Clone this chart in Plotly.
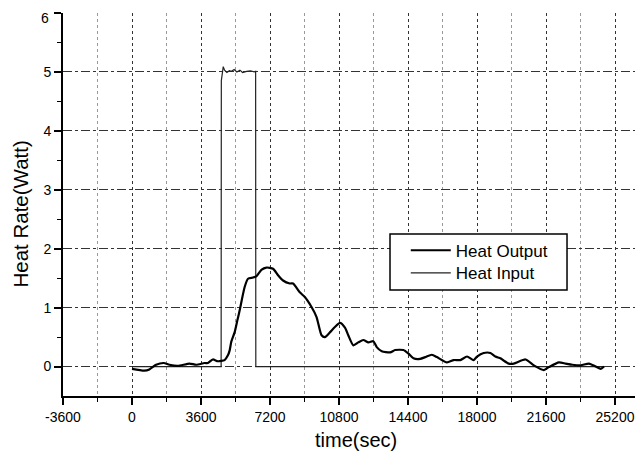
import plotly.graph_objects as go

# Heat Output (thick line)
out_t = [0, 640, 905, 1256, 1654, 1952, 2386, 3000, 3349, 3784, 3959, 4218, 4480, 4830, 5003,
         5092, 5180, 5353, 5494, 5615, 5877, 6052, 6313, 6487, 6749, 7012, 7360, 7620, 7881,
         8232, 8405, 8755, 9017, 9367, 9629, 9891, 10063, 10325, 10587, 10849, 11110, 11284,
         11545, 11806, 12069, 12330, 12591, 12768, 13030, 13465, 13727, 14161, 14423, 14685,
         15034, 15296, 15646, 15908, 16432, 16779, 17128, 17478, 17825, 18002, 18348, 18698,
         18960, 19224, 19394, 19656, 19919, 20530, 20965, 21488, 21750, 22274, 22623, 22972,
         23408, 23843, 24192, 24454, 24628]
out_v = [-0.04, -0.07, -0.05, 0.03, 0.06, 0.03, 0.01, 0.05, 0.03, 0.06, 0.06, 0.12, 0.09, 0.11, 0.19,
         0.27, 0.42, 0.58, 0.78, 0.95, 1.35, 1.49, 1.51, 1.53, 1.64, 1.68, 1.66, 1.55, 1.46,
         1.41, 1.41, 1.26, 1.18, 1.01, 0.84, 0.53, 0.50, 0.58, 0.67, 0.74, 0.66, 0.53,
         0.36, 0.41, 0.45, 0.41, 0.43, 0.33, 0.26, 0.24, 0.28, 0.28, 0.22, 0.14,
         0.13, 0.16, 0.20, 0.16, 0.07, 0.11, 0.11, 0.17, 0.11, 0.17, 0.23, 0.23,
         0.17, 0.14, 0.10, 0.05, 0.05, 0.12, 0.02, -0.06, -0.01, 0.07, 0.05, 0.03,
         0.02, 0.05, 0.00, -0.04, 0.00]

# Heat Input (thin line)
in_t = [0, 4650, 4660, 4700, 4760, 4830, 4950, 5080, 5190, 5330, 5470, 5630, 5770, 5980, 6180, 6370, 6450, 6460, 24600]
in_v = [0, 0, 4.85, 4.98, 5.09, 5.03, 4.99, 5.02, 5.01, 5.04, 5.0, 5.03, 4.99, 5.01, 5.02, 5.0, 5.01, 0, 0]

x_ticks = [-3600, 0, 3600, 7200, 10800, 14400, 18000, 21600, 25200]
y_ticks = [0, 1, 2, 3, 4, 5, 6]

fig = go.Figure()
fig.add_trace(go.Scatter(x=in_t, y=in_v, mode="lines", name="Heat Input", legend="legend2",
                         line=dict(color="#222222", width=1.2)))
fig.add_trace(go.Scatter(x=out_t, y=out_v, mode="lines", name="Heat Output", legend="legend",
                         line=dict(color="black", width=2.2, shape="spline", smoothing=0.6)))

font_family = "Liberation Sans, Arial, sans-serif"
leg_common = dict(xanchor="left", yanchor="middle", itemwidth=40,
                  bgcolor="rgba(0,0,0,0)", borderwidth=0,
                  font=dict(size=17, family=font_family, color="black"))

# the top tick label sits at the very top edge; it is drawn as an annotation nudged inside
y_ticktext = [str(v) for v in y_ticks[:-1]] + [""]
top_label = str(y_ticks[-1])

# page body has an 8px default margin, so the figure is sized/offset to compensate
fig.update_layout(
    width=635, height=449,
    margin=dict(l=55, r=0, t=5, b=61),
    paper_bgcolor="white", plot_bgcolor="white",
    font=dict(family=font_family, color="black"),
    showlegend=True,
    legend=dict(x=0.591, y=0.3794, **leg_common),
    legend2=dict(x=0.591, y=0.3204, **leg_common),
    shapes=[dict(type="rect", xref="paper", yref="paper",
                 x0=0.5638, x1=0.869, y0=0.277, y1=0.423,
                 fillcolor="white", line=dict(color="black", width=1.5), layer="above")],
    xaxis=dict(
        range=[-3600, 26660], tickvals=x_ticks, ticktext=[str(v) for v in x_ticks],
        automargin=False, ticklabeloverflow="allow",
        showline=True, linecolor="black", linewidth=2,
        ticks="outside", ticklen=7, tickwidth=1.5, tickcolor="black",
        tickfont=dict(size=14),
        showgrid=True, gridcolor="#333333", gridwidth=1, griddash="dot",
        minor=dict(tickvals=[v + 1800 for v in x_ticks], ticks="outside", ticklen=4,
                   tickcolor="black", tickwidth=1.2, showgrid=True,
                   gridcolor="#999999", gridwidth=1, griddash="dot"),
        zeroline=False,
    ),
    yaxis=dict(
        range=[-0.5, 6], tickvals=y_ticks, ticktext=y_ticktext,
        automargin=False, ticklabeloverflow="allow",
        showline=True, linecolor="black", linewidth=2,
        ticks="outside", ticklen=7, tickwidth=1.5, tickcolor="black",
        tickfont=dict(size=14),
        showgrid=True, gridcolor="#333333", gridwidth=1, griddash="dashdot",
        minor=dict(tickvals=[v + 0.5 for v in y_ticks[:-1]], ticks="outside",
                   ticklen=4, tickcolor="black", tickwidth=1.2, showgrid=False),
        zeroline=False,
    ),
    annotations=[
        dict(text=top_label, xref="paper", yref="y", x=-0.0215, y=y_ticks[-1],
             xanchor="right", yanchor="top", yshift=5, showarrow=False,
             font=dict(size=14)),
        dict(text="time(sec)", xref="paper", yref="paper", x=0.506, y=-0.115,
             xanchor="center", yanchor="middle", showarrow=False, font=dict(size=20)),
        dict(text="Heat Rate(Watt)", xref="paper", yref="paper", x=-0.074, y=0.474,
             xanchor="center", yanchor="middle", showarrow=False, textangle=-90,
             font=dict(size=20.5)),
    ],
)

fig.write_html("out.html")
